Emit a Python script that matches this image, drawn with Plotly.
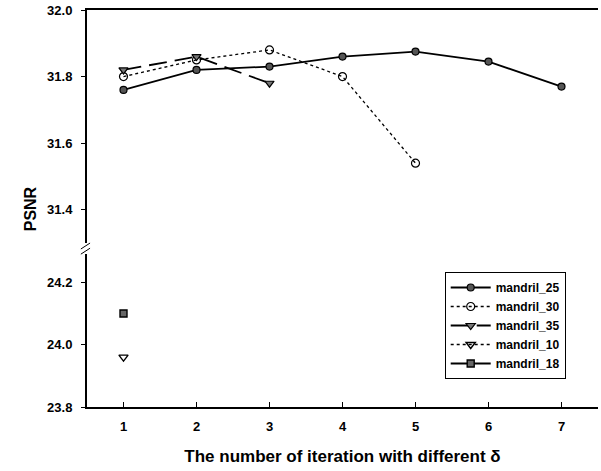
import plotly.graph_objects as go

iterations = [1, 2, 3, 4, 5, 6, 7]
mandril_25 = [31.76, 31.82, 31.83, 31.86, 31.875, 31.845, 31.77]
mandril_30 = [31.80, 31.85, 31.88, 31.80, 31.54]
mandril_35 = [31.82, 31.86, 31.78]
mandril_10 = [23.96]
mandril_18 = [24.10]

upper_ticks = [31.4, 31.6, 31.8, 32.0]
upper_ticktext = ["31.4", "31.6", "31.8", "32.0"]
lower_ticks = [23.8, 24.0, 24.2]
lower_ticktext = ["23.8", "24.0", "24.2"]
x_ticks = [1, 2, 3, 4, 5, 6, 7]

FONT = "Liberation Sans"
fig = go.Figure()

fig.add_trace(go.Scatter(x=iterations, y=mandril_25, name="mandril_25", xaxis="x2", yaxis="y2",
                         mode="lines+markers", line=dict(color="black", width=1.8),
                         marker=dict(symbol="circle", size=7, color="#555", line=dict(color="black", width=1.2))))
fig.add_trace(go.Scatter(x=iterations[:len(mandril_30)], y=mandril_30, name="mandril_30", xaxis="x2", yaxis="y2",
                         mode="lines+markers", line=dict(color="black", width=1.3, dash="dot"),
                         marker=dict(symbol="circle-open", size=8, color="black", line=dict(width=1.2))))
fig.add_trace(go.Scatter(x=iterations[:len(mandril_35)], y=mandril_35, name="mandril_35", xaxis="x2", yaxis="y2",
                         mode="lines+markers", line=dict(color="black", width=1.8, dash="18px,8px"),
                         marker=dict(symbol="triangle-down", size=8, color="#777", line=dict(color="black", width=1.2))))
fig.add_trace(go.Scatter(x=iterations[:len(mandril_10)], y=mandril_10, name="mandril_10", xaxis="x", yaxis="y",
                         mode="lines+markers", line=dict(color="black", width=1.3, dash="dot"),
                         marker=dict(symbol="triangle-down-open", size=8, color="black", line=dict(width=1.4))))
fig.add_trace(go.Scatter(x=iterations[:len(mandril_18)], y=mandril_18, name="mandril_18", xaxis="x", yaxis="y",
                         mode="lines+markers", line=dict(color="black", width=1.8),
                         marker=dict(symbol="square", size=7, color="#666", line=dict(color="black", width=1.4))))

tickfont = dict(family=FONT, size=13, color="black", weight="bold")

fig.update_layout(
    width=601, height=471,
    margin=dict(l=87, r=3, t=10, b=64),
    plot_bgcolor="white", paper_bgcolor="white",
    font=dict(family=FONT, color="black"),
    showlegend=True,
    legend=dict(x=0.70, y=0.34, xanchor="left", yanchor="top",
                bordercolor="black", borderwidth=1, bgcolor="white",
                font=dict(family=FONT, size=12, color="black", weight="bold"),
                tracegroupgap=0, itemwidth=40),
    xaxis=dict(range=[0.5, 7.5], tickvals=x_ticks, ticks="inside", ticklen=5, tickcolor="black",
               showline=True, linecolor="black", linewidth=2, showgrid=False, zeroline=False,
               tickfont=tickfont, anchor="y", ticklabelstandoff=6,
               title=dict(text="The number of iteration with different δ",
                          font=dict(family=FONT, size=17, color="black", weight="bold"), standoff=18)),
    xaxis2=dict(range=[0.5, 7.5], matches="x", showticklabels=False, ticks="", side="top",
                showline=True, linecolor="black", linewidth=2, showgrid=False, zeroline=False,
                anchor="y2"),
    yaxis=dict(domain=[0, 0.385], range=[23.8, 24.29], tickvals=lower_ticks, ticktext=lower_ticktext,
               ticks="outside", ticklen=4, tickcolor="black", showline=True, linecolor="black",
               linewidth=2, showgrid=False, zeroline=False, tickfont=tickfont, anchor="x",
               ticklabelstandoff=6),
    yaxis2=dict(domain=[0.413, 1], range=[31.3, 32.0], tickvals=upper_ticks, ticktext=upper_ticktext,
                ticks="outside", ticklen=4, tickcolor="black", showline=True, linecolor="black",
                linewidth=2, showgrid=False, zeroline=False, tickfont=tickfont, anchor="x2",
                ticklabelstandoff=6),
    annotations=[dict(text="PSNR", x=-0.11, y=0.5, xref="paper", yref="paper", textangle=-90,
                      xanchor="center", yanchor="middle",
                      showarrow=False, font=dict(family=FONT, size=16, color="black", weight="bold"))],
    shapes=[
        dict(type="line", xref="paper", yref="paper", x0=-0.012, y0=0.385, x1=0.006, y1=0.40,
             line=dict(color="black", width=1)),
        dict(type="line", xref="paper", yref="paper", x0=-0.012, y0=0.398, x1=0.006, y1=0.413,
             line=dict(color="black", width=1)),
    ],
)

fig.write_html("out.html")
